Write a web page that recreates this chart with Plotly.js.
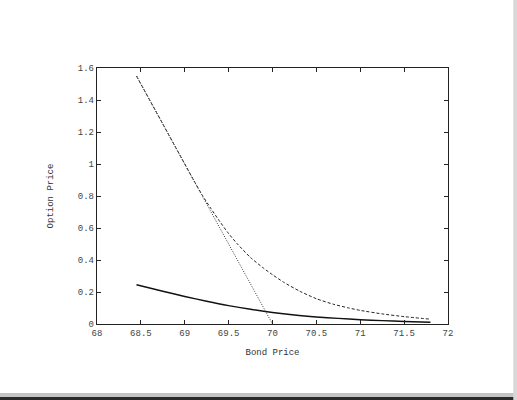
<!DOCTYPE html>
<html>
<head>
<meta charset="utf-8">
<script src="https://cdn.plot.ly/plotly-3.0.1.min.js"></script>
<style>html,body{margin:0;padding:0;background:#fff;}#chart{width:517px;height:400px;}</style>
</head>
<body>
<div id="chart"></div>
<script>
// Intrinsic value (dotted line)
var intrinsicX = [68.45, 70.0];
var intrinsicY = [1.55, 0.0];

// Option price, upper curve (dashed)
var upperX = [68.45, 69.0, 69.1, 69.2, 69.3, 69.4, 69.5, 69.6, 69.75, 69.9, 70.0, 70.13, 70.31, 70.5, 70.69, 70.87, 71.0, 71.25, 71.5, 71.8];
var upperY = [1.55, 1.00, 0.90, 0.805, 0.72, 0.64, 0.565, 0.50, 0.415, 0.348, 0.308, 0.26, 0.205, 0.158, 0.124, 0.10, 0.085, 0.063, 0.046, 0.03];

// Option price, lower curve (solid)
var lowerX = [68.45, 68.75, 69.0, 69.25, 69.5, 69.75, 70.0, 70.25, 70.5, 70.75, 71.0, 71.25, 71.5, 71.8];
var lowerY = [0.245, 0.205, 0.172, 0.142, 0.115, 0.092, 0.072, 0.056, 0.044, 0.035, 0.027, 0.021, 0.016, 0.011];

var xTicks = [68, 68.5, 69, 69.5, 70, 70.5, 71, 71.5, 72];
var xTickText = ['68', '68.5', '69', '69.5', '70', '70.5', '71', '71.5', '72'];
var yTicks = [0, 0.2, 0.4, 0.6, 0.8, 1, 1.2, 1.4, 1.6];
var yTickText = ['0', '0.2', '0.4', '0.6', '0.8', '1', '1.2', '1.4', '1.6'];

var mono = 'Liberation Mono, DejaVu Sans Mono, monospace';

var traces = [
  {x: lowerX, y: lowerY, mode: 'lines', line: {color: '#111', width: 1.4, shape: 'spline', smoothing: 0.8}, hoverinfo: 'skip'},
  {x: upperX, y: upperY, mode: 'lines', line: {color: '#222', width: 1, dash: '3px,2px', shape: 'spline', smoothing: 0.5}, hoverinfo: 'skip'},
  {x: intrinsicX, y: intrinsicY, mode: 'lines', line: {color: '#333', width: 1, dash: '1px,1.5px'}, hoverinfo: 'skip'}
];

var layout = {
  width: 517, height: 400,
  margin: {l: 97, r: 69, t: 68, b: 76},
  paper_bgcolor: '#fff', plot_bgcolor: '#fff',
  showlegend: false,
  font: {family: mono, size: 9, color: '#333'},
  xaxis: {
    range: [68, 72], tickvals: xTicks, ticktext: xTickText,
    ticks: 'inside', ticklen: 4, tickwidth: 1, tickcolor: '#222',
    showline: true, linecolor: '#222', linewidth: 1.2, mirror: 'ticks',
    showgrid: false, zeroline: false,
    tickfont: {family: mono, size: 9, color: '#444'},
    title: {text: 'Bond Price', font: {family: mono, size: 9, color: '#333'}, standoff: 10}
  },
  yaxis: {
    range: [0, 1.6], tickvals: yTicks, ticktext: yTickText,
    ticks: 'inside', ticklen: 4, tickwidth: 1, tickcolor: '#222',
    showline: true, linecolor: '#222', linewidth: 1.2, mirror: 'ticks',
    showgrid: false, zeroline: false,
    tickfont: {family: mono, size: 9, color: '#444'},
    title: {text: 'Option Price', font: {family: mono, size: 9, color: '#333'}, standoff: 22}
  },
  shapes: [
    {type: 'rect', xref: 'paper', yref: 'paper', x0: -0.28, x1: 1.2, y0: -0.2855, y1: -0.2695, fillcolor: '#c4c4c4', line: {width: 0}, layer: 'below'},
    {type: 'rect', xref: 'paper', yref: 'paper', x0: -0.28, x1: 1.2, y0: -0.30, y1: -0.2855, fillcolor: '#2a2a2a', line: {width: 0}, layer: 'below'},
    {type: 'rect', xref: 'paper', yref: 'paper', x0: 1.186, x1: 1.2, y0: -0.30, y1: 1.27, fillcolor: '#d8d8d8', line: {width: 0}, layer: 'below'}
  ]
};

Plotly.newPlot('chart', traces, layout, {displayModeBar: false, staticPlot: true});
</script>
</body>
</html>
